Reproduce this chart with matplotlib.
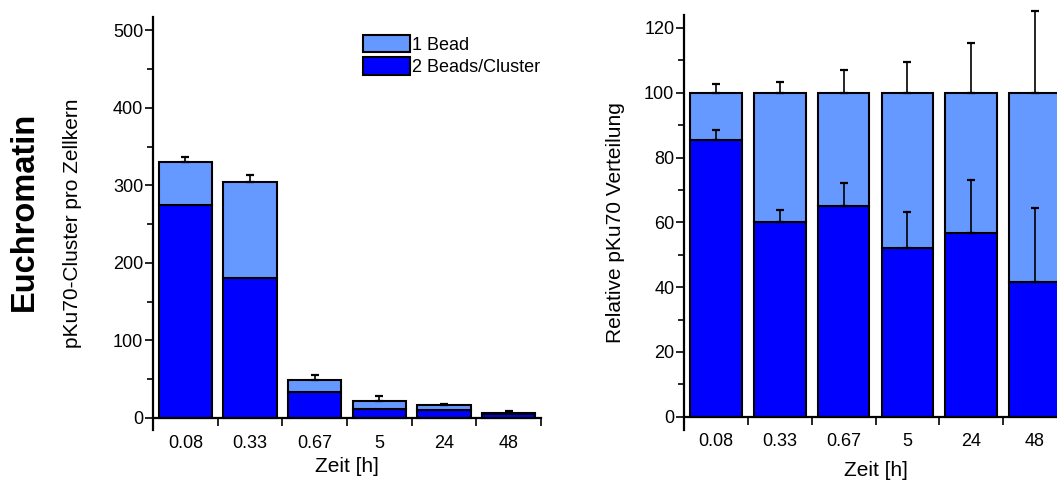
import numpy as np
import matplotlib
matplotlib.use('Agg')
import matplotlib.pyplot as plt
from matplotlib.patches import Patch
from matplotlib.ticker import MultipleLocator, FixedLocator

plt.rcParams['font.family'] = ['Liberation Sans', 'DejaVu Sans']

times = ['0.08', '0.33', '0.67', '5', '24', '48']

# pKu70-Cluster pro Zellkern
abs_two = [274, 181, 33, 11, 10, 5]
abs_one = [56, 123, 16, 11.5, 6.5, 2]
abs_err = [7, 9, 7, 6, 2, 2]

# relative distribution (%)
rel_two = [85.5, 60.2, 65, 52, 56.6, 41.6]
rel_one = [14.5, 39.8, 35, 48, 43.4, 58.4]
rel_two_err = [3, 3.5, 7, 11.3, 16.4, 22.8]
rel_tot_err = [2.6, 3.4, 7, 9.5, 15.5, 25.2]

light = '#6699ff'
dark = '#0000ff'

fig = plt.figure(figsize=(10.57, 4.8), dpi=100)
W, H = 1057, 480


def setup_axes(ax, ymin, ymax, major, minor):
    ax.set_xlim(-0.5, 5.5)
    ax.set_ylim(ymin, ymax)
    ax.spines['top'].set_visible(False)
    ax.spines['right'].set_visible(False)
    ax.spines['bottom'].set_position(('data', 0))
    for s in ['left', 'bottom']:
        ax.spines[s].set_linewidth(1.6)
    ax.yaxis.set_major_locator(MultipleLocator(major))
    ax.yaxis.set_minor_locator(MultipleLocator(minor))
    ax.tick_params(axis='y', which='major', length=6, width=1.2, pad=1, labelsize=13)
    ax.tick_params(axis='y', which='minor', length=4, width=1.2)
    ax.set_xticks(range(len(times)))
    ax.set_xticklabels(times)
    ax.xaxis.set_minor_locator(FixedLocator(np.arange(0.5, 6, 1.0)))
    ax.tick_params(axis='x', which='major', length=0, pad=12, labelsize=13)
    ax.tick_params(axis='x', which='minor', length=6, width=1.2, direction='out')


x = np.arange(len(times))

# left panel
ax1 = fig.add_axes([153 / W, 50 / H, 388 / W, 413 / H])
setup_axes(ax1, -15.5, 517, 100, 50)
ax1.bar(x, abs_two, width=0.82, color=dark, edgecolor='black', linewidth=1.5, zorder=2)
ax1.bar(x, abs_one, bottom=abs_two, width=0.82, color=light, edgecolor='black', linewidth=1.5, zorder=2)
abs_tot = np.array(abs_two) + np.array(abs_one)
ax1.errorbar(x, abs_tot, yerr=[np.zeros(6), abs_err], fmt='none', ecolor='black',
             elinewidth=1.2, capsize=3, capthick=1.6, zorder=3)
ax1.set_ylabel('pKu70-Cluster pro Zellkern', fontsize=15, labelpad=22)
ax1.set_xlabel('Zeit [h]', fontsize=15, labelpad=4)

fig.legend(handles=[Patch(facecolor=light, edgecolor='black', linewidth=1.5, label='1 Bead'),
                    Patch(facecolor=dark, edgecolor='black', linewidth=1.5, label='2 Beads/Cluster')],
           loc='upper left', bbox_to_anchor=(363 / W, 1 - 35 / H), frameon=False,
           fontsize=13, borderpad=0, borderaxespad=0, handlelength=2.6, handleheight=1.1,
           handletextpad=0.1, labelspacing=0.2)

fig.text(24 / W, 1 - 211 / H, 'Euchromatin', rotation=90, fontsize=23.5, fontweight='bold',
         ha='center', va='center')

# right panel
ax2 = fig.add_axes([684 / W, 50 / H, 383 / W, 415 / H])
setup_axes(ax2, -4.1, 124, 20, 10)
ax2.bar(x, rel_two, width=0.81, color=dark, edgecolor='black', linewidth=1.5, zorder=2)
ax2.bar(x, rel_one, bottom=rel_two, width=0.81, color=light, edgecolor='black', linewidth=1.5, zorder=2)
rel_tot = np.array(rel_two) + np.array(rel_one)
ax2.errorbar(x, rel_two, yerr=[np.zeros(6), rel_two_err], fmt='none', ecolor='black',
             elinewidth=1.2, capsize=3, capthick=1.6, zorder=3)
eb = ax2.errorbar(x, rel_tot, yerr=[np.zeros(6), rel_tot_err], fmt='none', ecolor='black',
                  elinewidth=1.2, capsize=3, capthick=1.6, zorder=3)
for art in eb.lines[1] + eb.lines[2]:
    art.set_clip_on(False)
ax2.set_ylabel('Relative pKu70 Verteilung', fontsize=15, labelpad=14)
ax2.set_xlabel('Zeit [h]', fontsize=15, labelpad=8)

fig.savefig('out.png', dpi=100)
